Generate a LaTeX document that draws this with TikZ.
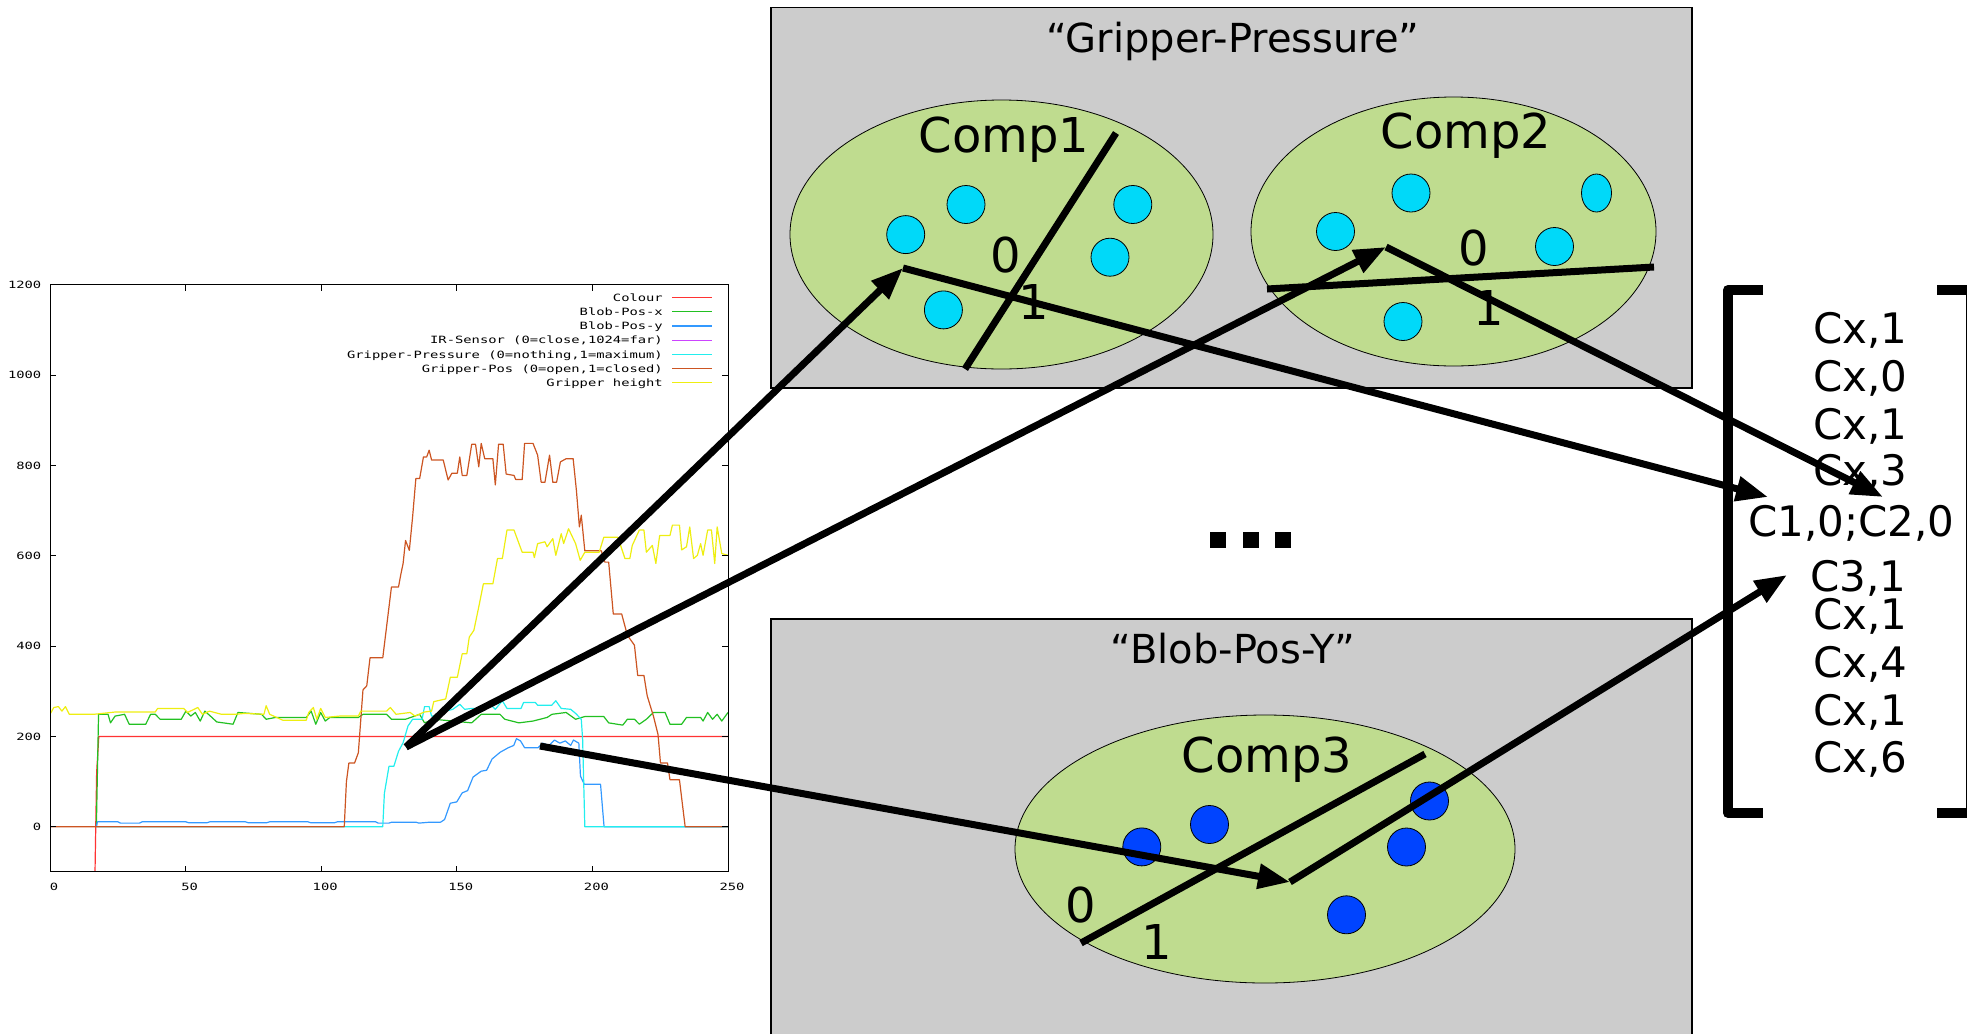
\documentclass[tikz,border=0pt]{standalone}
\usepackage{fontspec}
\setmainfont{DejaVu Sans}
\newfontfamily\plotfont[FakeStretch=1.38]{DejaVu Sans Mono}
\usetikzlibrary{arrows.meta}

\definecolor{panelgray}{HTML}{CCCCCC}
\definecolor{clustergreen}{HTML}{BFDC8F}
\definecolor{blobcyan}{HTML}{00D9F9}
\definecolor{blobblue}{HTML}{0044FF}
\definecolor{cRed}{HTML}{FF3333}
\definecolor{cGreen}{HTML}{22C022}
\definecolor{cBlue}{HTML}{3399FF}
\definecolor{cMag}{HTML}{CC44FF}
\definecolor{cCyan}{HTML}{22EEEE}
\definecolor{cBrown}{HTML}{CC5522}
\definecolor{cYellow}{HTML}{EEEE11}

\tikzset{
  panel/.style={fill=panelgray, draw=black, line width=1.2pt},
  cluster/.style={fill=clustergreen, draw=black, line width=0.8pt},
  blobA/.style={fill=blobcyan, draw=black, line width=0.8pt},
  blobB/.style={fill=blobblue, draw=black, line width=0.8pt},
  split/.style={line width=7pt},
  link/.style={line width=7pt, -{Triangle[length=32pt,width=24pt]}},
  plotline/.style={line width=1.2pt, line join=round},
  ticklabel/.style={font=\plotfont\fontsize{10}{12}\selectfont, inner sep=0pt},
  title/.style={font=\fontsize{40}{48}\selectfont, inner sep=0pt, anchor=base},
  big/.style={font=\fontsize{48}{58}\selectfont, inner sep=0pt, anchor=base},
  entry/.style={font=\fontsize{42}{50}\selectfont, inner sep=0pt, anchor=base west},
}

\begin{document}
\begin{tikzpicture}[x=1pt, y=-1pt]
\useasboundingbox (0,0) rectangle (1967,1034);
\clip (0,0) rectangle (1967,1034);

% ---------------- sensor log plot ----------------
\begin{scope}[shift={(50,826.7)}, xscale=2.712, yscale=-0.4515]
  \begin{scope}
  \clip (0,-100) rectangle (250,1200);
  % Colour
  \draw[plotline, cRed] plot coordinates {(16.6,-100) (17.2,120) (18,200) (250,200)};
  % Blob-Pos-x
  \draw[plotline, cGreen] plot coordinates {(17.1,0) (17.9,249) (21.4,249) (22.3,230) (24.0,245) (27.5,249) (29.2,227) (35.3,227) (37.1,249) (38.8,249) (40.6,238) (48.4,238) (50.1,256) (51.9,245) (53.6,253) (55.4,234) (57.1,256) (59.7,242) (61.5,232) (67.5,227) (69.3,253) (78.0,249) (79.7,238) (83.2,242) (94.5,242) (96.3,256) (98.0,227) (99.8,253) (101.5,234) (103.2,242) (113.7,242) (115.4,249) (124.1,249) (125.9,238) (131.1,238) (136.3,249) (138.1,230) (141.5,238) (155.5,230) (159.0,249) (165.9,249) (167.7,238) (172.9,230) (178.1,234) (183.3,242) (185.1,249) (190.3,253) (193.8,238) (197.2,244) (204.2,244) (206.0,230) (211.2,225) (212.9,238) (215.5,238) (217.3,227) (219.9,238) (222.5,253) (226.8,253) (228.6,227) (232.9,227) (234.7,242) (239.9,242) (240.8,234) (242.5,253) (244.3,238) (246.0,249) (247.7,234) (250,253)};
  % Blob-Pos-y
  \draw[plotline, cBlue] plot coordinates {(17.1,0) (17.5,11) (25,11) (26,8) (33,8) (34,11) (50,11) (51,9) (58,9) (59,11) (72,11) (73,9) (80,9) (81,11) (95,11) (96,9) (105,9) (106,11) (120,11) (121,8) (125,8) (126,10) (135,10) (136,8) (140,10) (144,10) (145.5,16) (147.6,52) (150,55) (152,75) (154,80) (156,110) (159,123) (161,125) (163,150) (166,165) (169,175) (171,180) (172,195) (173.5,190) (175,175) (180,175) (181.6,185) (184,180) (186,192) (188,185) (190,190) (192,180) (193,192) (195,185) (195.6,112) (197,94) (203,94) (204.3,0) (250,0)};
  % Gripper-Pressure
  \draw[plotline, cCyan] plot coordinates {(17,0) (122.7,0) (123.3,74) (125,134) (126.8,134) (128.5,167) (130.2,186) (132,223) (133.7,238) (137.2,238) (138.1,266) (139.8,266) (140.7,245) (143.3,245) (145.9,256) (148.5,260) (151.1,271) (152.9,260) (155.5,262) (160.7,262) (162.4,271) (164.2,260) (166.8,279) (168.5,262) (173.7,262) (174.6,275) (179,275) (179.8,269) (185,269) (186.5,279) (188.5,262) (192,260) (193.8,251) (195.9,238) (196.4,193) (197.2,0) (250,0)};
  % Gripper-Pos
  \draw[plotline, cBrown] plot coordinates {(0,0) (108.5,0) (109.3,100) (110.2,141) (112.3,141) (113.7,164) (115.4,303) (116.8,312) (118,374) (122.7,374) (125.9,531) (128.5,531) (129.4,560) (130.2,583) (131.1,634) (132.5,612) (133.7,686) (134.9,771) (136.3,771) (137.7,819) (138.9,819) (139.8,834) (140.7,812) (145.0,812) (146.8,768) (148.2,783) (150.2,783) (151.1,819) (152.0,778) (153.7,778) (155.5,847) (156.9,847) (158.1,797) (159.0,849) (160.3,815) (163.3,815) (164.2,757) (165.4,847) (167.1,847) (168.2,781) (171.1,778) (171.7,769) (174.1,769) (175.0,849) (178.1,849) (179.8,823) (181.1,763) (182.5,763) (184.2,823) (185.4,763) (186.8,763) (188.2,808) (190.3,815) (192.9,815) (194.1,745) (195.2,664) (195.9,690) (197.2,611) (203.3,611) (204.6,586) (206.0,586) (207.7,471) (210.8,471) (212.9,424) (215.5,402) (216.7,335) (219.0,335) (220.2,290) (222.5,245) (224.2,204) (225.1,141) (227.7,141) (228.6,104) (232.1,104) (233.0,59) (234.2,0) (250,0)};
  % Gripper height
  \draw[plotline, cYellow] plot coordinates {(0,249) (1.4,264) (3.1,266) (4.4,256) (5.7,266) (7.1,249) (16.2,249) (24,254) (38.8,254) (39.7,262) (49.3,262) (50.7,253) (54.5,264) (56.2,249) (58.8,256) (63.2,249) (68.4,249) (71.9,251) (78.9,249) (79.7,268) (81,249) (85.8,236) (94.5,236) (95.4,253) (97.1,264) (98.4,238) (99.8,262) (101.5,242) (106.7,245) (113.7,245) (114.6,256) (124.1,256) (125.5,264) (127.6,249) (132.8,253) (134.6,245) (138,254) (140.7,256) (141.5,277) (145.9,283) (147.6,331) (150.2,331) (152,383) (153.7,383) (154.6,420) (156.3,435) (158.1,487) (159.8,538) (163.3,538) (165,594) (166.8,594) (168.5,657) (171.1,657) (172.5,634) (174.1,608) (178.1,608) (178.6,596) (179.8,627) (182.5,631) (183.3,620) (185.4,638) (186.5,601) (188.5,649) (189.4,627) (191.2,660) (193.8,627) (195.5,590) (197.2,608) (202.5,608) (204.2,641) (209.4,641) (212,594) (213.8,594) (214.7,623) (217.3,657) (219,657) (219.9,608) (222.1,623) (223.4,583) (224.8,645) (228.6,645) (229.5,668) (232.1,668) (232.9,613) (234.7,620) (235.9,664) (237.3,594) (238.7,601) (239.9,627) (240.8,601) (242.5,657) (243.9,657) (245.1,583) (246,664) (247.7,605) (250,601)};
  \end{scope}
  \draw[line width=1pt] (0,-100) rectangle (250,1200);
\end{scope}

% axis ticks and tick labels
\foreach \t in {0,50,...,250} {
  \pgfmathsetmacro{\px}{50+2.712*\t}
  \draw[line width=1pt] (\px,871.9) -- ++(0,-6);
  \draw[line width=1pt] (\px,284.9) -- ++(0,6);
  \node[ticklabel] (xl\t) at (\px+4,887) {\t};
}
\foreach \v in {0,200,...,1200} {
  \pgfmathsetmacro{\py}{826.7-0.4515*\v}
  \draw[line width=1pt] (50,\py) -- ++(6,0);
  \draw[line width=1pt] (728,\py) -- ++(-6,0);
  \node[ticklabel, anchor=east] (yl\v) at (41.5,\py) {\v};
}

% legend
\node[ticklabel, anchor=base east] (lg1) at (663,301.2) {Colour};
\node[ticklabel, anchor=base east] (lg2) at (663,315.4) {Blob-Pos-x};
\node[ticklabel, anchor=base east] (lg3) at (663,329.6) {Blob-Pos-y};
\node[ticklabel, anchor=base east] (lg4) at (663,343.8) {IR-Sensor (0=close,1024=far)};
\node[ticklabel, anchor=base east] (lg5) at (663,358.0) {Gripper-Pressure (0=nothing,1=maximum)};
\node[ticklabel, anchor=base east] (lg6) at (663,372.2) {Gripper-Pos (0=open,1=closed)};
\node[ticklabel, anchor=base east] (lg7) at (663,386.4) {Gripper height};
\draw[plotline, cRed]    (672,297.5) -- (712,297.5);
\draw[plotline, cGreen]  (672,311.7) -- (712,311.7);
\draw[plotline, cBlue]   (672,325.9) -- (712,325.9);
\draw[plotline, cMag]    (672,340.1) -- (712,340.1);
\draw[plotline, cCyan]   (672,354.3) -- (712,354.3);
\draw[plotline, cBrown]  (672,368.5) -- (712,368.5);
\draw[plotline, cYellow] (672,382.7) -- (712,382.7);

% ---------------- sensor panels ----------------
\draw[panel] (771,7.5) rectangle (1692,388);
\fill[panelgray] (771,619) rectangle (1692,1034);
\draw[line width=1.2pt] (771,1034) -- (771,619) -- (1692,619) -- (1692,1034);

\node[title] (gp) at (1233,52) {“Gripper-Pressure”};
\node[title] (bp) at (1233,663) {“Blob-Pos-Y”};

% clusters
\draw[cluster] (1001.5,234.5) ellipse [x radius=211.5, y radius=134.5];
\draw[cluster] (1453.5,231.5) ellipse [x radius=202.5, y radius=134.5];
\draw[cluster] (1265,849) ellipse [x radius=250, y radius=134];

\node[big] (comp1) at (1004,152) {Comp1};
\node[big] (comp2) at (1466,148.5) {Comp2};
\node[big] (comp3) at (1267,772.5) {Comp3};

% samples
\draw[blobA] (905.7,234.6) ellipse [x radius=19, y radius=19];
\draw[blobA] (966,204.5) ellipse [x radius=19, y radius=19];
\draw[blobA] (943.4,309.9) ellipse [x radius=19, y radius=19];
\draw[blobA] (1132.8,204.5) ellipse [x radius=19, y radius=19];
\draw[blobA] (1110,257.2) ellipse [x radius=19, y radius=19];

\draw[blobA] (1335.5,231.5) ellipse [x radius=19, y radius=19];
\draw[blobA] (1411,193) ellipse [x radius=19, y radius=19];
\draw[blobA] (1596.5,193) ellipse [x radius=15, y radius=19];
\draw[blobA] (1554.5,246.5) ellipse [x radius=19, y radius=19];
\draw[blobA] (1403,321.5) ellipse [x radius=19, y radius=19];

\draw[blobB] (1141.8,846.9) ellipse [x radius=19, y radius=19];
\draw[blobB] (1209.5,824.5) ellipse [x radius=19, y radius=19];
\draw[blobB] (1429.5,801) ellipse [x radius=19, y radius=19];
\draw[blobB] (1406.5,847) ellipse [x radius=19, y radius=19];
\draw[blobB] (1346.5,914.8) ellipse [x radius=19, y radius=19];

% branch labels
\node[big] (z1) at (1006,272.5) {0};
\node[big] (o1) at (1034,319.5) {1};
\node[big] (z2) at (1474,265.5) {0};
\node[big] (o2) at (1489,325.5) {1};
\node[big] (z3) at (1081,922.5) {0};
\node[big] (o3) at (1157,959.5) {1};

% split lines
\coordinate (s1a) at (1116,133);  \coordinate (s1b) at (965,369);
\coordinate (s2a) at (1267,289);  \coordinate (s2b) at (1654,267);
\coordinate (s3a) at (1081,943);  \coordinate (s3b) at (1425,754);
\draw[split] (s1a) -- (s1b);
\draw[split] (s2a) -- (s2b);
\draw[split] (s3a) -- (s3b);

% ellipsis between panels
\fill (1210,532) rectangle (1226,548);
\fill (1243,532) rectangle (1259,548);
\fill (1275,532) rectangle (1291,548);

% ---------------- feature vector ----------------
\draw[line width=10pt, line join=round] (1763,290) -- (1728,290) -- (1728,813) -- (1763,813);
\draw[line width=10pt, line join=round] (1937,290) -- (1971,290) -- (1971,813) -- (1937,813);

\node[entry] (v1)  at (1813,343) {Cx,1};
\node[entry] (v2)  at (1813,391) {Cx,0};
\node[entry] (v3)  at (1813,439) {Cx,1};
\node[entry] (v4)  at (1813,485) {Cx,3};
\node[entry] (v5)  at (1748,536) {C1,0;C2,0};
\node[entry] (v6)  at (1810,591) {C3,1};
\node[entry] (v7)  at (1813,629) {Cx,1};
\node[entry] (v8)  at (1813,677) {Cx,4};
\node[entry] (v9)  at (1813,725) {Cx,1};
\node[entry] (v10) at (1813,772) {Cx,6};

% ---------------- connectors ----------------
\coordinate (cyanpt) at (406,747);
\coordinate (bluept) at (540,746);
\coordinate (c1in) at (903,268);
\coordinate (c2in) at (1386,247);
\coordinate (c3in) at (1290,882);
\coordinate (tgtA) at (1768,497);
\coordinate (tgtB) at (1883,497);
\coordinate (tgtC) at (1787,575);

\draw[link] (cyanpt) -- (c1in);
\draw[link] (cyanpt) -- (c2in);
\draw[link] (bluept) -- (c3in);
\draw[link] (c1in) -- (tgtA);
\draw[link] (c2in) -- (tgtB);
\draw[link] (c3in) -- (tgtC);
\end{tikzpicture}
\end{document}
